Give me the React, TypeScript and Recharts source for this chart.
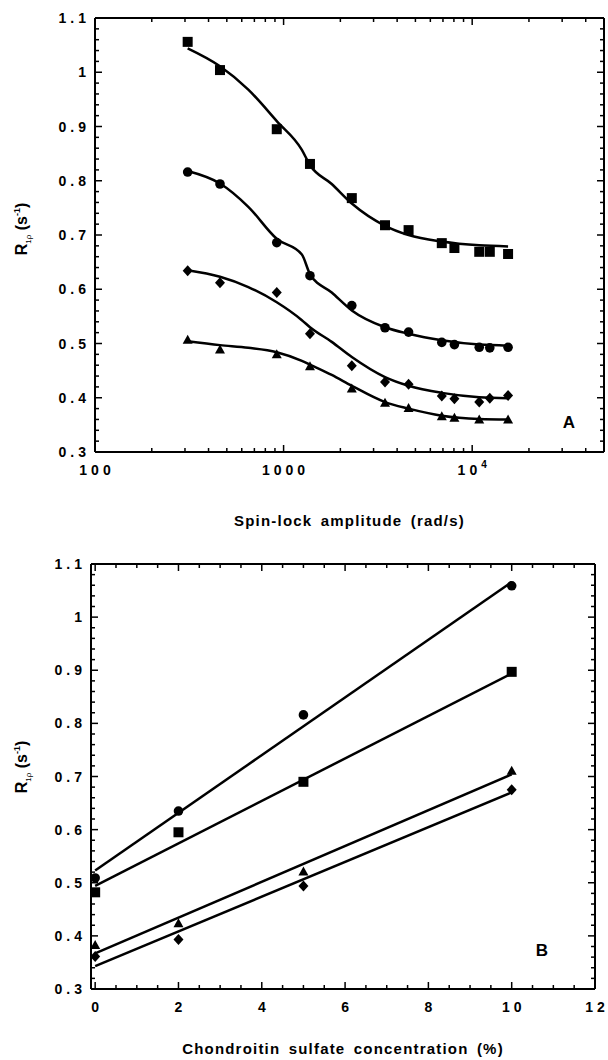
import React from 'react';
import { ComposedChart, Scatter, Line, XAxis, YAxis } from 'recharts';

// Panel A: R1rho vs spin-lock amplitude (rad/s), four samples
const ampX = [310, 460, 920, 1380, 2300, 3450, 4600, 6900, 8050, 10900, 12400, 15500];
const ampXTri = [310, 460, 920, 1380, 2300, 3450, 4600, 6900, 8050, 10900, 15500];
const squareA = [1.056, 1.004, 0.895, 0.831, 0.768, 0.718, 0.709, 0.685, 0.676, 0.669, 0.669, 0.665];
const circleA = [0.816, 0.794, 0.686, 0.625, 0.570, 0.529, 0.521, 0.502, 0.498, 0.493, 0.492, 0.493];
const diamondA = [0.634, 0.612, 0.594, 0.518, 0.459, 0.429, 0.425, 0.403, 0.398, 0.392, 0.399, 0.404];
const triangleA = [0.507, 0.489, 0.480, 0.458, 0.417, 0.391, 0.381, 0.366, 0.363, 0.360, 0.360];

// fitted curves
const fitX = [310, 460, 650, 920, 1250, 1380, 1800, 2300, 3450, 4600, 6900, 10900, 15500];
const squareFitA = [1.044, 1.011, 0.968, 0.91, 0.857, 0.829, 0.794, 0.758, 0.717, 0.700, 0.688, 0.681, 0.679];
const circleFitA = [0.818, 0.795, 0.752, 0.693, 0.664, 0.628, 0.594, 0.561, 0.530, 0.518, 0.506, 0.498, 0.496];
const diamondFitA = [0.635, 0.623, 0.604, 0.576, 0.543, 0.530, 0.503, 0.475, 0.438, 0.422, 0.409, 0.401, 0.399];
const triangleFitA = [0.504, 0.497, 0.492, 0.484, 0.468, 0.461, 0.442, 0.422, 0.392, 0.380, 0.367, 0.361, 0.360];

// Panel B: R1rho vs chondroitin sulfate concentration (%)
const concX = [0, 2, 5, 10];
const circleB = [0.509, 0.635, 0.816, 1.059];
const squareB = [0.482, 0.595, 0.690, 0.897];
const triangleB = [0.383, 0.424, 0.521, 0.711];
const diamondB = [0.361, 0.393, 0.494, 0.675];

const fitXB = [0, 10];
const circleFitB = [0.523, 1.066];
const squareFitB = [0.494, 0.894];
const triangleFitB = [0.367, 0.704];
const diamondFitB = [0.343, 0.670];

// tick labels
const yMajor = [0.3, 0.4, 0.5, 0.6, 0.7, 0.8, 0.9, 1, 1.1];
const logMajor = [100, 1000, 10000];
const logMinor = [200, 300, 400, 500, 600, 700, 800, 900, 2000, 3000, 4000, 5000, 6000, 7000, 8000, 9000, 20000, 30000, 40000];
const concMajor = [0, 2, 4, 6, 8, 10, 12];

const yTicks = Array.from({ length: 41 }, (_, i) => +(0.3 + i * 0.02).toFixed(2));
const logTicks = [...logMajor, ...logMinor].sort((a, b) => a - b);
const concTicks = Array.from({ length: 25 }, (_, i) => i * 0.5);

const FONT = '"Liberation Sans", Arial, Helvetica, sans-serif';
const LS = 4;
const pts = (xs: number[], ys: number[]) => xs.map((x, i) => ({ x, y: ys[i] }));

const isMajorY = (v: number) => Math.abs(v * 10 - Math.round(v * 10)) < 1e-6;
const fmtY = (v: number) => String(parseFloat(v.toFixed(1)));

const LeftTick = (p: any) => {
    const v = p.payload.value;
    const major = isMajorY(v);
    return (
        <g>
            <line x1={p.x} x2={p.x + (major ? 7 : 4)} y1={p.y} y2={p.y} stroke="#000" strokeWidth={1.5} />
            {major && (
                <text x={p.x - 9 + LS} y={p.y + 5} textAnchor="end" fontFamily={FONT} fontWeight="bold" fontSize={14} letterSpacing={LS} fill="#000">
                    {fmtY(v)}
                </text>
            )}
        </g>
    );
};

const RightTick = (p: any) => {
    const major = isMajorY(p.payload.value);
    return <line x1={p.x} x2={p.x - (major ? 7 : 4)} y1={p.y} y2={p.y} stroke="#000" strokeWidth={1.5} />;
};

const makeBottomTick = (isMajor: (v: number) => boolean, label: (v: number) => React.ReactNode) => (p: any) => {
    const v = p.payload.value;
    const major = isMajor(v);
    return (
        <g>
            <line x1={p.x} x2={p.x} y1={p.y} y2={p.y - (major ? 7 : 4)} stroke="#000" strokeWidth={1.5} />
            {major && (
                <text x={p.x + LS / 2} y={p.y + 23} textAnchor="middle" fontFamily={FONT} fontWeight="bold" fontSize={14} letterSpacing={LS} fill="#000">
                    {label(v)}
                </text>
            )}
        </g>
    );
};

const makeTopTick = (isMajor: (v: number) => boolean) => (p: any) => {
    const major = isMajor(p.payload.value);
    return <line x1={p.x} x2={p.x} y1={p.y} y2={p.y + (major ? 7 : 4)} stroke="#000" strokeWidth={1.5} />;
};

const isLogMajor = (v: number) => logMajor.includes(v);
const logLabel = (v: number) =>
    v === 10000 ? (
        <>
            <tspan>10</tspan>
            <tspan fontSize={10} dy={-7}>4</tspan>
        </>
    ) : (
        String(v)
    );
const isConcMajor = (v: number) => concMajor.includes(v);

const SquareMark = ({ cx, cy }: any) => <rect x={cx - 5} y={cy - 5} width={10} height={10} fill="#000" />;
const CircleMark = ({ cx, cy }: any) => <circle cx={cx} cy={cy} r={4.8} fill="#000" />;
const DiamondMark = ({ cx, cy }: any) => (
    <polygon points={`${cx},${cy - 5.5} ${cx + 5},${cy} ${cx},${cy + 5.5} ${cx - 5},${cy}`} fill="#000" />
);
const TriangleMark = ({ cx, cy }: any) => (
    <polygon points={`${cx},${cy - 5} ${cx + 5},${cy + 4} ${cx - 5},${cy + 4}`} fill="#000" />
);

const axisLine = { stroke: '#000', strokeWidth: 2 };
const titleStyle = { fontFamily: FONT, fontWeight: 'bold', fontSize: 15, letterSpacing: 1.2, wordSpacing: 3, fill: '#000' } as any;

const YTitle = ({ x, y }: { x: number; y: number }) => (
    <text transform={`translate(${x},${y}) rotate(-90)`} textAnchor="middle" fontFamily={FONT} fontWeight="bold" fontSize={16} fill="#000">
        R
        <tspan fontSize={8} fontWeight="normal" dy={4}>1ρ</tspan>
        <tspan dy={-4}> (s</tspan>
        <tspan fontSize={9} dy={-7}>-1</tspan>
        <tspan dy={7}>)</tspan>
    </text>
);

const Series = (id: string, data: any[], shape: any) => (
    <Scatter key={id} xAxisId="b" yAxisId="l" data={data} dataKey="y" shape={shape} isAnimationActive={false} />
);
const Fit = (id: string, data: any[], type: any) => (
    <Line key={id} xAxisId="b" yAxisId="l" data={data} dataKey="y" type={type} stroke="#000" strokeWidth={2.5} dot={false} activeDot={false} isAnimationActive={false} />
);

export default function App() {
    return (
        <div style={{ position: 'absolute', left: 0, top: 0, width: 608, height: 1060, background: '#fff' }}>
            <div style={{ position: 'absolute', left: 0, top: 0 }}>
                <ComposedChart width={608} height={540} margin={{ top: 17, right: 0, bottom: 0, left: 0 }}>
                    <XAxis
                        xAxisId="b" dataKey="x" type="number" scale="log" domain={[100, 50000]} allowDataOverflow
                        ticks={logTicks} interval={0} tickSize={0} tickMargin={0} tickLine={false} axisLine={axisLine} height={88}
                        tick={makeBottomTick(isLogMajor, logLabel)}
                        label={{ value: 'Spin-lock amplitude (rad/s)', position: 'insideBottom', offset: 14, style: titleStyle }}
                    />
                    <XAxis
                        xAxisId="t" orientation="top" dataKey="x" type="number" scale="log" domain={[100, 50000]} allowDataOverflow
                        ticks={logTicks} interval={0} tickSize={0} tickMargin={0} tickLine={false} axisLine={axisLine} height={1}
                        tick={makeTopTick(isLogMajor)}
                    />
                    <YAxis
                        yAxisId="l" type="number" domain={[0.3, 1.1]} allowDataOverflow ticks={yTicks} interval={0}
                        tickSize={0} tickMargin={0} tickLine={false} axisLine={axisLine} width={95} tick={LeftTick}
                    />
                    <YAxis
                        yAxisId="r" orientation="right" type="number" domain={[0.3, 1.1]} allowDataOverflow ticks={yTicks} interval={0}
                        tickSize={0} tickMargin={0} tickLine={false} axisLine={axisLine} width={4} tick={RightTick}
                    />
                    {Fit('sqf', pts(fitX, squareFitA), 'monotone')}
                    {Fit('cif', pts(fitX, circleFitA), 'monotone')}
                    {Fit('dif', pts(fitX, diamondFitA), 'monotone')}
                    {Fit('trf', pts(fitX, triangleFitA), 'monotone')}
                    {Series('sq', pts(ampX, squareA), SquareMark)}
                    {Series('ci', pts(ampX, circleA), CircleMark)}
                    {Series('di', pts(ampX, diamondA), DiamondMark)}
                    {Series('tr', pts(ampXTri, triangleA), TriangleMark)}
                </ComposedChart>
            </div>
            <div style={{ position: 'absolute', left: 0, top: 490 }}>
                <ComposedChart width={608} height={570} margin={{ top: 73, right: 9, bottom: 0, left: 0 }}>
                    <XAxis
                        xAxisId="b" dataKey="x" type="number" domain={[-0.1, 12]} allowDataOverflow
                        ticks={concTicks} interval={0} tickSize={0} tickMargin={0} tickLine={false} axisLine={axisLine} height={71}
                        tick={makeBottomTick(isConcMajor, (v) => String(v))}
                        label={{ value: 'Chondroitin sulfate concentration (%)', position: 'insideBottom', offset: 6, style: titleStyle }}
                    />
                    <XAxis
                        xAxisId="t" orientation="top" dataKey="x" type="number" domain={[-0.1, 12]} allowDataOverflow
                        ticks={concTicks} interval={0} tickSize={0} tickMargin={0} tickLine={false} axisLine={axisLine} height={1}
                        tick={makeTopTick(isConcMajor)}
                    />
                    <YAxis
                        yAxisId="l" type="number" domain={[0.3, 1.1]} allowDataOverflow ticks={yTicks} interval={0}
                        tickSize={0} tickMargin={0} tickLine={false} axisLine={axisLine} width={91} tick={LeftTick}
                    />
                    <YAxis
                        yAxisId="r" orientation="right" type="number" domain={[0.3, 1.1]} allowDataOverflow ticks={yTicks} interval={0}
                        tickSize={0} tickMargin={0} tickLine={false} axisLine={axisLine} width={4} tick={RightTick}
                    />
                    {Fit('cif', pts(fitXB, circleFitB), 'linear')}
                    {Fit('sqf', pts(fitXB, squareFitB), 'linear')}
                    {Fit('trf', pts(fitXB, triangleFitB), 'linear')}
                    {Fit('dif', pts(fitXB, diamondFitB), 'linear')}
                    {Series('ci', pts(concX, circleB), CircleMark)}
                    {Series('sq', pts(concX, squareB), SquareMark)}
                    {Series('tr', pts(concX, triangleB), TriangleMark)}
                    {Series('di', pts(concX, diamondB), DiamondMark)}
                </ComposedChart>
            </div>
            <svg width={608} height={1060} style={{ position: 'absolute', left: 0, top: 0, pointerEvents: 'none' }}>
                <YTitle x={27} y={229} />
                <YTitle x={27} y={767} />
                <text x={569} y={428} textAnchor="middle" fontFamily={FONT} fontWeight="bold" fontSize={17} fill="#000">A</text>
                <text x={542} y={956} textAnchor="middle" fontFamily={FONT} fontWeight="bold" fontSize={17} fill="#000">B</text>
            </svg>
        </div>
    );
}
